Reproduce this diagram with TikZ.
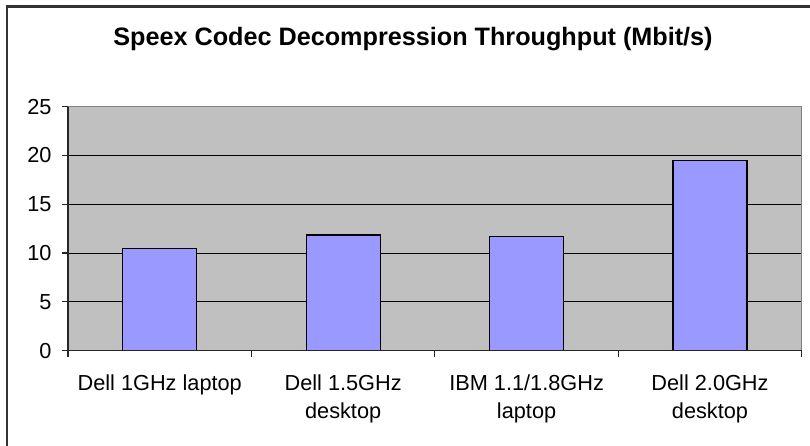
\documentclass[tikz,border=0pt]{standalone}
\usepackage{fontspec}
\setmainfont{Liberation Sans}
\definecolor{plotgray}{HTML}{C0C0C0}
\definecolor{barblue}{HTML}{9999FF}
\definecolor{framegray}{HTML}{333333}
\begin{document}
\begin{tikzpicture}[x=0.75pt, y=0.75pt,
		every node/.style={font=\fontsize{16.3}{21}\selectfont, inner sep=0pt},
		bar/.style={draw=black, fill=barblue, line width=0.9pt},
		grid line/.style={black, line width=0.8pt},
		axis line/.style={black!85, line width=0.9pt}]
		\useasboundingbox (0,0) rectangle (810,446);
		
		% Outer chart frame
		\draw[framegray, line width=1.6pt] (7,-20) -- (7,439.5) -- (830,439.5);
		
		% Title
		\node[anchor=base, font=\bfseries\fontsize{18.9}{22}\selectfont] (title) at (413,400.5)
			{Speex Codec Decompression Throughput (Mbit/s)};
		
		\begin{scope}[shift={(68,95.3)}, y=7.32pt]
			% Plot area
			\coordinate (P0) at (0,0);
			\coordinate (P1) at (733.7,25);
			\fill[plotgray] (P0) rectangle (P1);
			
			% Grid lines
			\foreach \v in {5,10,15,20}
			\draw[grid line] (0,\v) -- (733.7,\v);
			
			% Bars
			\foreach \val [count=\i] in {10.5,11.85,11.7,19.45}
			\draw[bar] ({183.43*(\i-0.5)-37},0) rectangle ({183.43*(\i-0.5)+37},\val);
			
			% Plot border and axes
			\draw[gray, line width=0.9pt] (0,25) -- (733.7,25) -- (733.7,0);
			\draw[axis line] (0,25) -- (0,0) -- (733.7,0);
			
			% Value axis
			\foreach \v in {0,5,...,25} {
				\draw[axis line] (-6.3,\v) -- (0,\v);
				\node[anchor=east] (ylab\v) at (-16.3,\v) {\v};
			}
			
			% Category axis
			\foreach \i in {0,...,4}
			\draw[axis line] (183.43*\i,0) -- ++(0pt,-5pt);
			\foreach \txt [count=\i] in {Dell 1GHz laptop, Dell 1.5GHz\\desktop, IBM 1.1/1.8GHz\\laptop, Dell 2.0GHz\\desktop}
			\node[anchor=north, align=center, yshift=-18pt] (cat\i) at ({183.43*(\i-0.5)},0) {\txt};
		\end{scope}
	\end{tikzpicture}
\end{document}
